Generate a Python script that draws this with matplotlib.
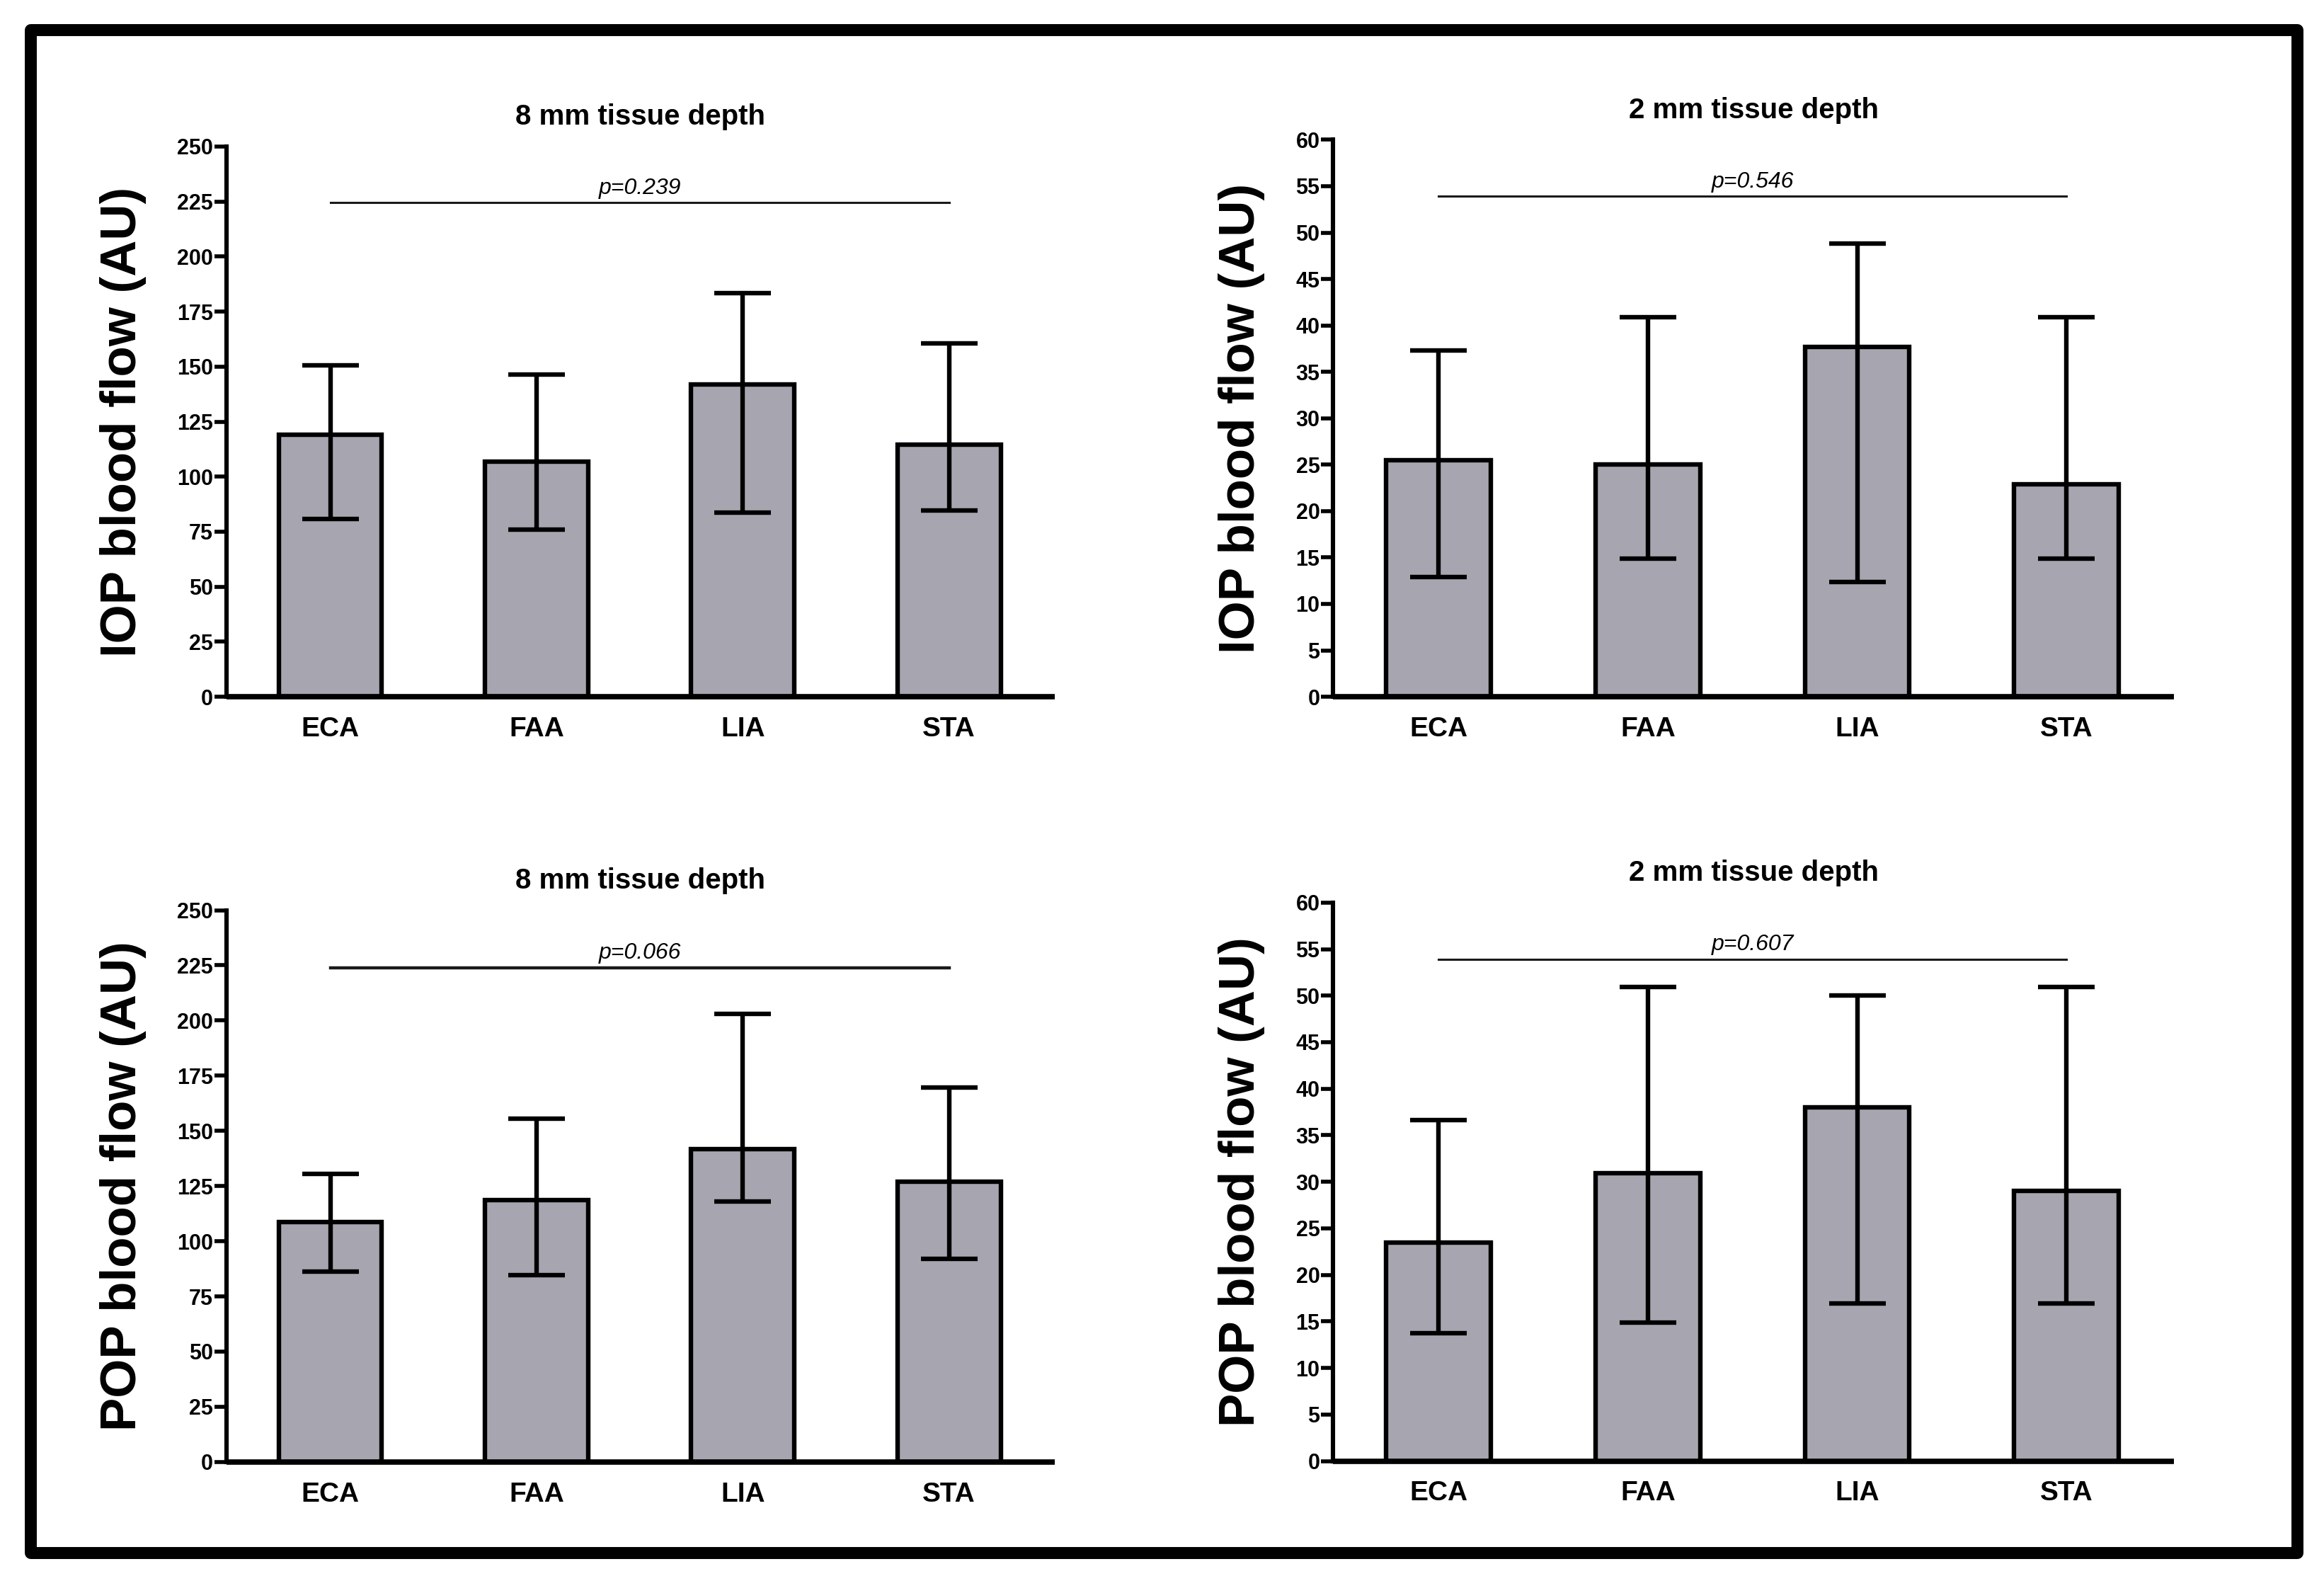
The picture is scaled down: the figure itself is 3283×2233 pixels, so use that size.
import matplotlib.pyplot as plt
import numpy as np
from matplotlib.patches import Rectangle

plt.rcParams['font.family'] = ['Liberation Sans', 'DejaVu Sans']

# Data (bar heights with lower / upper whisker ends)
arteries = ['ECA', 'FAA', 'LIA', 'STA']

iop_8mm = [119.0, 106.7, 142.0, 114.5]
iop_8mm_lo = [80.7, 76.0, 83.8, 84.5]
iop_8mm_hi = [150.5, 146.5, 183.5, 160.5]

iop_2mm = [25.5, 25.0, 37.7, 22.9]
iop_2mm_lo = [12.9, 14.9, 12.4, 14.9]
iop_2mm_hi = [37.3, 40.9, 48.8, 40.9]

pop_8mm = [108.7, 118.8, 141.8, 127.1]
pop_8mm_lo = [86.2, 84.8, 117.9, 91.9]
pop_8mm_hi = [130.5, 155.6, 202.9, 169.8]

pop_2mm = [23.5, 30.9, 38.0, 29.0]
pop_2mm_lo = [13.7, 14.9, 16.9, 16.9]
pop_2mm_hi = [36.6, 50.9, 50.0, 50.9]

p_values = ['p=0.239', 'p=0.546', 'p=0.066', 'p=0.607']

bar_color = '#a7a6b0'

fig = plt.figure(figsize=(32.83, 22.33), dpi=100)

# Outer black frame
fig.patches.append(Rectangle((0.0131, 0.0180), 0.9754, 0.9632, transform=fig.transFigure,
                             fill=False, edgecolor='black', linewidth=12.2,
                             joinstyle='round', zorder=0))

panels = [
    ([0.0974, 0.5593, 0.3565, 0.3480], iop_8mm, iop_8mm_lo, iop_8mm_hi, 250, 25,
     '8 mm tissue depth', 'IOP blood flow (AU)', p_values[0], 224.5, -0.1246, 2.2),
    ([0.5736, 0.5593, 0.3618, 0.3523], iop_2mm, iop_2mm_lo, iop_2mm_hi, 60, 5,
     '2 mm tissue depth', 'IOP blood flow (AU)', p_values[1], 53.9, -0.1086, 2.2),
    ([0.0974, 0.0753, 0.3565, 0.3490], pop_8mm, pop_8mm_lo, pop_8mm_hi, 250, 25,
     '8 mm tissue depth', 'POP blood flow (AU)', p_values[2], 224.0, -0.1246, 3.2),
    ([0.5736, 0.0759, 0.3618, 0.3532], pop_2mm, pop_2mm_lo, pop_2mm_hi, 60, 5,
     '2 mm tissue depth', 'POP blood flow (AU)', p_values[3], 53.9, -0.1086, 2.2),
]

x = np.arange(len(arteries))

for pos, vals, lo, hi, ymax, step, title, ylabel, ptxt, pline, labx, plw in panels:
    ax = fig.add_axes(pos)
    vals = np.array(vals)
    yerr = [vals - np.array(lo), np.array(hi) - vals]
    ax.bar(x, vals, width=0.5, color=bar_color, edgecolor='black', linewidth=4.6, zorder=2)
    ax.errorbar(x, vals, yerr=yerr, fmt='none', ecolor='black', elinewidth=4.6,
                capsize=29, capthick=4.6, zorder=3)

    ax.set_xlim(-0.504, 3.513)
    ax.set_ylim(0, ymax)
    ax.set_yticks(np.arange(0, ymax + 1, step))
    ax.set_xticks(x)
    ax.set_xticklabels(arteries, fontsize=28, fontweight='bold')
    for lab in ax.get_yticklabels():
        lab.set_fontsize(22)
        lab.set_fontweight('bold')

    ax.tick_params(axis='y', direction='out', length=12, width=4, pad=1.5)
    ax.tick_params(axis='x', length=0, pad=20)

    for side in ['top', 'right']:
        ax.spines[side].set_visible(False)
    ax.spines['left'].set_linewidth(4.4)
    ax.spines['bottom'].set_linewidth(5.5)
    ax.spines['bottom'].set_capstyle('butt')

    ax.set_title(title, fontsize=29, fontweight='bold', pad=22)
    ax.set_ylabel(ylabel, fontsize=51, fontweight='bold', va='center')
    ax.yaxis.set_label_coords(labx, 0.5)

    # significance line
    ax.plot([0, 3], [pline, pline], color='#1a1a1a', linewidth=plw, zorder=2)
    ax.annotate(ptxt, xy=(1.5, pline), xytext=(0, 4), textcoords='offset points',
                ha='center', va='bottom', fontsize=23, fontstyle='italic')

    ax.set_facecolor('none')

plt.savefig('out.png', dpi=100, facecolor='white')
